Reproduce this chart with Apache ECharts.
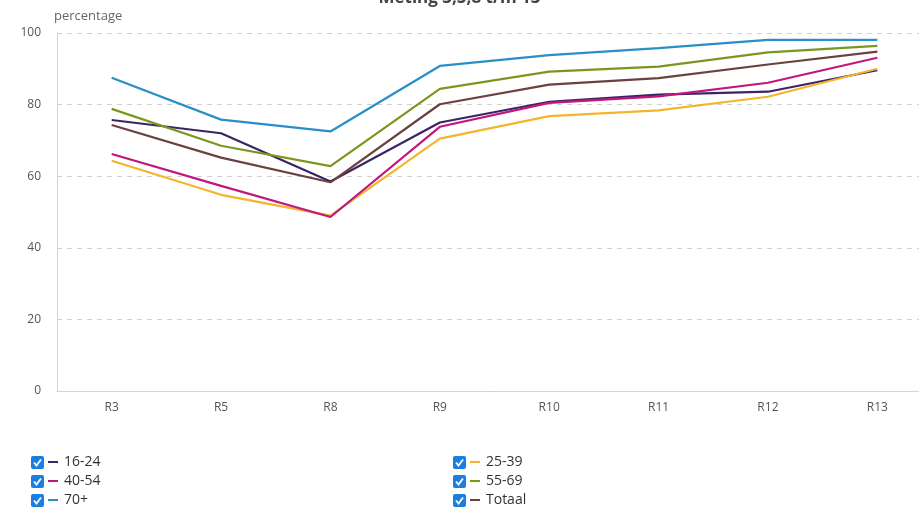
<!DOCTYPE html>
<html>
<head>
<meta charset="utf-8">
<script src="https://cdn.jsdelivr.net/npm/echarts@6/dist/echarts.min.js"></script>
<style>html,body{margin:0;padding:0;background:#fff;}#c{width:919px;height:512px;}</style>
</head>
<body>
<div id="c"></div>
<script>
const categories = ['R3','R5','R8','R9','R10','R11','R12','R13'];
const yTicks = [0,20,40,60,80,100];
const s1624 = [75.7,72.0,58.5,75.0,80.8,82.8,83.6,89.6];
const s2539 = [64.3,54.8,49.0,70.5,76.8,78.4,82.2,90.0];
const s4054 = [66.2,57.3,48.6,73.8,80.5,82.3,86.1,93.1];
const s5569 = [78.8,68.5,62.8,84.4,89.2,90.6,94.6,96.4];
const s70 = [87.5,75.8,72.5,90.8,93.8,95.8,98.1,98.1];
const sTot = [74.3,65.2,58.3,80.1,85.6,87.4,91.2,94.8];
const seriesNames = ['16-24','25-39','40-54','55-69','70+','Totaal'];
const seriesData = [s1624,s2539,s4054,s5569,s70,sTot];
const colors = ['#3b2466','#f4b52c','#c2177a','#7b961f','#2b8fc6','#6a4140'];
const legendPos = [[48,455],[470,455],[48,474],[470,474],[48,493],[470,493]];

const chart = echarts.init(document.getElementById('c'));
const checkbox = (x,y) => ({
  type:'group', left:x, top:y, children:[
    {type:'rect', shape:{x:0,y:0,width:13,height:13,r:2}, style:{fill:'#1a7fe0'}},
    {type:'polyline', shape:{points:[[3,6.5],[5.5,9.5],[10,3.5]]}, style:{stroke:'#fff',lineWidth:1.8,fill:null}}
  ]});
chart.setOption({
  animation:false,
  color: colors,
  title:{text:'Meting 3,5,8 t/m 13', left:'center', top:-15, textStyle:{fontSize:17,fontWeight:'bold',color:'#444',fontFamily:'Open Sans'}},
  grid:{left:57, top:33, bottom:121, right:-13, outerBoundsMode:'none', containLabel:false},
  xAxis:{type:'category', data:categories, boundaryGap:true,
    axisLine:{lineStyle:{color:'#ccd6eb'}}, axisTick:{show:false},
    axisLabel:{color:'#555', fontSize:12, margin:11, fontFamily:'Open Sans'}},
  yAxis:{type:'value', min:0, max:100, interval:20,
    name:'percentage', nameLocation:'end', nameGap:10,
    nameTextStyle:{color:'#666', fontSize:13, align:'left', padding:[0,0,0,-3], fontFamily:'Open Sans'},
    axisLine:{show:true, lineStyle:{color:'#ccd6eb'}},
    splitLine:{lineStyle:{color:'#d0d0d0', type:[5,5]}},
    axisLabel:{color:'#555', fontSize:12, margin:16, fontFamily:'Open Sans'}},
  legend: seriesNames.map((n,i)=>({data:[n], left:legendPos[i][0], top:legendPos[i][1], itemWidth:10, itemHeight:14,
     icon:'path://M0,6 h10 v2 h-10 z', textStyle:{fontSize:14,color:'#333',fontFamily:'Open Sans',padding:[0,0,0,1]}, selectedMode:false, padding:0})),
  graphic:legendPos.map(p=>checkbox(p[0]-17,p[1]+1)),
  series: seriesNames.map((n,i)=>({name:n, type:'line', data:seriesData[i], symbol:'none', lineStyle:{width:2.2}}))
});
</script>
</body>
</html>
